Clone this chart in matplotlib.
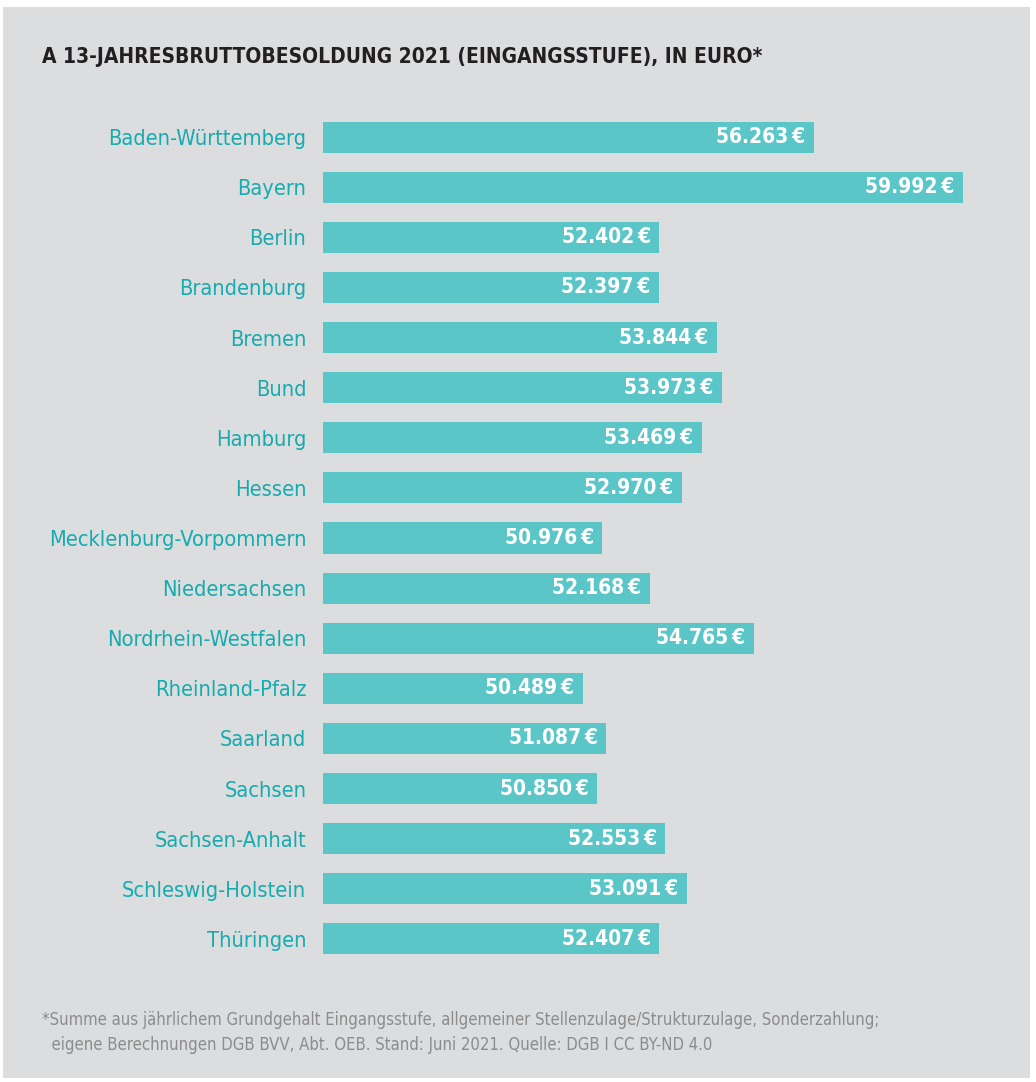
import matplotlib
matplotlib.use('Agg')
import matplotlib.pyplot as plt
from matplotlib.patches import Rectangle

# ── Data ──────────────────────────────────────────────────────────────────────
states = ['Baden-Württemberg', 'Bayern', 'Berlin', 'Brandenburg', 'Bremen',
          'Bund', 'Hamburg', 'Hessen', 'Mecklenburg-Vorpommern',
          'Niedersachsen', 'Nordrhein-Westfalen', 'Rheinland-Pfalz',
          'Saarland', 'Sachsen', 'Sachsen-Anhalt', 'Schleswig-Holstein',
          'Thüringen']
salary = [56263, 59992, 52402, 52397, 53844, 53973, 53469, 52970, 50976,
          52168, 54765, 50489, 51087, 50850, 52553, 53091, 52407]

TITLE = 'A 13-JAHRESBRUTTOBESOLDUNG 2021 (EINGANGSSTUFE), IN EURO*'
NOTE1 = '*Summe aus jährlichem Grundgehalt Eingangsstufe, allgemeiner Stellenzulage/Strukturzulage, Sonderzahlung;'
NOTE2 = '  eigene Berechnungen DGB BVV, Abt. OEB. Stand: Juni 2021. Quelle: DGB I CC BY-ND 4.0'

# ── Style ─────────────────────────────────────────────────────────────────────
BG = '#dcdddf'
BAR = '#5bc6c8'
TEAL = '#16abaf'
DARK = '#231f20'
GREY = '#8c8c8c'
plt.rcParams['font.family'] = 'DejaVu Sans'
plt.rcParams['font.stretch'] = 'condensed'

W, H = 1036, 1082
fig = plt.figure(figsize=(W / 100, H / 100), dpi=100)
fig.patch.set_facecolor('white')

def fx(px):
    return px / W

def fy(py):
    return 1 - py / H

# grey panel
fig.patches.append(Rectangle((fx(3), fy(1078)), fx(1030) - fx(3), fy(7) - fy(1078),
                             transform=fig.transFigure, facecolor=BG,
                             edgecolor='none', zorder=-10))

ax = fig.add_axes([fx(323), fy(964), fx(963) - fx(323), fy(112) - fy(964)])
ax.set_facecolor('none')

y = list(range(len(states)))
ax.barh(y, salary, left=0, height=0.62, color=BAR, zorder=2)
ax.set_xlim(44000, 60000)
ax.set_ylim(len(states) - 0.5, -0.5)

for i, v in enumerate(salary):
    lab = f'{v:,}'.replace(',', '.') + '\u2009€'
    ax.annotate(lab, xy=(v, i), xytext=(-6, 0), textcoords='offset points',
                ha='right', va='center', color='white', fontsize=15,
                fontweight='bold', zorder=3)

ax.set_yticks(y)
ax.set_yticklabels(states, color=TEAL, fontsize=15.7)
ax.tick_params(axis='y', length=0, pad=12)
ax.set_xticks([])
for s in ax.spines.values():
    s.set_visible(False)

fig.text(fx(42), fy(57), TITLE, fontsize=15, fontweight='bold', color=DARK,
         ha='left', va='center')
fig.text(fx(42), fy(1020), NOTE1, fontsize=12, color=GREY, ha='left', va='center')
fig.text(fx(42), fy(1045), NOTE2, fontsize=12, color=GREY, ha='left', va='center')

fig.savefig('out.png', dpi=100)
